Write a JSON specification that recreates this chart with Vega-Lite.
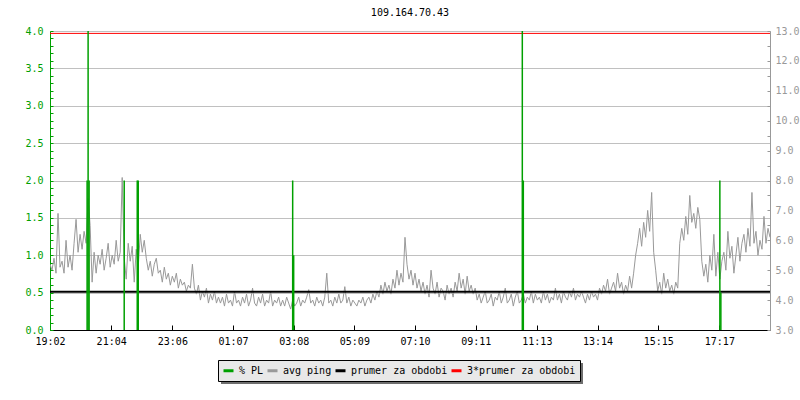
{
  "$schema": "https://vega.github.io/schema/vega-lite/v6.json",
  "width": 720,
  "height": 299,
  "autosize": {"type": "none"},
  "padding": {"left": 50, "top": 31, "right": 30, "bottom": 70},
  "background": "white",
  "title": {"text": "109.164.70.43", "font": "DejaVu Sans Mono", "fontSize": 10, "fontWeight": "normal", "color": "black", "baseline": "alphabetic", "frame": "group", "anchor": "middle", "offset": 14, "dy": 14},
  "config": {
    "view": {"stroke": null},
    "axis": {"labelFont": "DejaVu Sans Mono", "labelFontSize": 10, "title": null, "domainWidth": 1, "tickWidth": 1, "labelOverlap": false, "labelFlush": false}
  },
  "datasets": {
    "ping": [
      {"t":0,"v":5.2},{"t":4,"v":5.0},{"t":8,"v":5.4},{"t":12,"v":4.9},{"t":16,"v":6.9},{"t":20,"v":5.1},{"t":24,"v":5.3},{"t":28,"v":4.9},{"t":32,"v":6.0},{"t":36,"v":5.1},
      {"t":40,"v":5.5},{"t":44,"v":5.0},{"t":48,"v":5.9},{"t":52,"v":6.7},{"t":56,"v":5.6},{"t":60,"v":6.2},{"t":64,"v":5.7},{"t":68,"v":6.3},{"t":72,"v":5.9},{"t":76,"v":7.4},
      {"t":80,"v":6.5},{"t":84,"v":4.6},{"t":88,"v":5.6},{"t":92,"v":4.9},{"t":96,"v":5.5},{"t":100,"v":5.2},{"t":104,"v":5.7},{"t":108,"v":5.0},{"t":112,"v":5.4},{"t":116,"v":5.9},
      {"t":120,"v":5.1},{"t":124,"v":5.5},{"t":128,"v":5.2},{"t":132,"v":6.0},{"t":136,"v":5.3},{"t":140,"v":5.6},{"t":144,"v":8.1},{"t":148,"v":5.4},{"t":152,"v":4.7},{"t":156,"v":5.9},
      {"t":160,"v":5.3},{"t":164,"v":5.8},{"t":168,"v":4.6},{"t":172,"v":5.7},{"t":176,"v":5.1},{"t":180,"v":6.2},{"t":184,"v":5.6},{"t":188,"v":6.0},{"t":192,"v":5.4},{"t":196,"v":5.0},
      {"t":200,"v":5.3},{"t":204,"v":4.8},{"t":208,"v":5.2},{"t":212,"v":5.4},{"t":216,"v":4.9},{"t":220,"v":5.0},{"t":224,"v":4.6},{"t":228,"v":5.1},{"t":232,"v":4.7},{"t":236,"v":4.9},
      {"t":240,"v":4.5},{"t":244,"v":4.8},{"t":248,"v":4.6},{"t":252,"v":4.9},{"t":256,"v":4.4},{"t":260,"v":4.7},{"t":264,"v":4.5},{"t":268,"v":4.6},{"t":272,"v":4.3},{"t":276,"v":4.5},
      {"t":280,"v":4.4},{"t":284,"v":5.2},{"t":288,"v":4.4},{"t":292,"v":4.2},{"t":296,"v":4.5},{"t":300,"v":4.0},{"t":304,"v":4.3},{"t":308,"v":4.1},{"t":312,"v":4.4},{"t":316,"v":3.9},
      {"t":320,"v":4.2},{"t":324,"v":4.0},{"t":328,"v":4.3},{"t":332,"v":3.9},{"t":336,"v":4.1},{"t":340,"v":3.9},{"t":344,"v":4.1},{"t":348,"v":3.8},{"t":352,"v":4.2},{"t":356,"v":3.9},
      {"t":360,"v":4.0},{"t":364,"v":3.8},{"t":368,"v":4.3},{"t":372,"v":3.9},{"t":376,"v":4.0},{"t":380,"v":3.8},{"t":384,"v":4.1},{"t":388,"v":3.9},{"t":392,"v":4.2},{"t":396,"v":3.8},
      {"t":400,"v":4.0},{"t":404,"v":4.4},{"t":408,"v":3.9},{"t":412,"v":3.8},{"t":416,"v":4.1},{"t":420,"v":3.9},{"t":424,"v":4.2},{"t":428,"v":3.8},{"t":432,"v":4.0},{"t":436,"v":3.9},
      {"t":440,"v":4.3},{"t":444,"v":3.8},{"t":448,"v":4.0},{"t":452,"v":3.9},{"t":456,"v":4.1},{"t":460,"v":3.8},{"t":464,"v":4.0},{"t":468,"v":3.8},{"t":472,"v":4.1},{"t":476,"v":3.9},
      {"t":480,"v":3.7},{"t":484,"v":4.0},{"t":488,"v":3.8},{"t":492,"v":3.9},{"t":496,"v":4.1},{"t":500,"v":3.8},{"t":504,"v":4.0},{"t":508,"v":3.9},{"t":512,"v":4.1},{"t":516,"v":4.35},
      {"t":520,"v":3.9},{"t":524,"v":4.0},{"t":528,"v":3.8},{"t":532,"v":4.1},{"t":536,"v":3.9},{"t":540,"v":4.0},{"t":544,"v":3.8},{"t":548,"v":4.1},{"t":552,"v":4.9},{"t":556,"v":3.9},
      {"t":560,"v":4.0},{"t":564,"v":3.8},{"t":568,"v":4.1},{"t":572,"v":3.9},{"t":576,"v":4.2},{"t":580,"v":3.9},{"t":584,"v":4.0},{"t":588,"v":4.45},{"t":592,"v":3.9},{"t":596,"v":4.1},
      {"t":600,"v":3.8},{"t":604,"v":4.0},{"t":608,"v":3.9},{"t":612,"v":3.8},{"t":616,"v":4.0},{"t":620,"v":3.9},{"t":624,"v":4.1},{"t":628,"v":3.8},{"t":632,"v":4.0},{"t":636,"v":4.1},
      {"t":640,"v":3.9},{"t":644,"v":4.2},{"t":648,"v":4.0},{"t":652,"v":4.3},{"t":656,"v":4.1},{"t":660,"v":4.5},{"t":664,"v":4.2},{"t":668,"v":4.6},{"t":672,"v":4.3},{"t":676,"v":4.5},
      {"t":680,"v":4.2},{"t":684,"v":4.7},{"t":688,"v":4.4},{"t":692,"v":5.0},{"t":696,"v":4.5},{"t":700,"v":4.9},{"t":704,"v":4.6},{"t":708,"v":6.1},{"t":712,"v":5.2},{"t":716,"v":4.7},
      {"t":720,"v":5.0},{"t":724,"v":4.5},{"t":728,"v":4.9},{"t":732,"v":4.4},{"t":736,"v":4.7},{"t":740,"v":4.3},{"t":744,"v":4.6},{"t":748,"v":4.2},{"t":752,"v":4.5},{"t":756,"v":4.1},
      {"t":760,"v":5.0},{"t":764,"v":4.4},{"t":768,"v":4.2},{"t":772,"v":4.6},{"t":776,"v":4.1},{"t":780,"v":4.4},{"t":784,"v":4.3},{"t":788,"v":4.0},{"t":792,"v":4.5},{"t":796,"v":4.2},
      {"t":800,"v":4.4},{"t":804,"v":4.1},{"t":808,"v":4.6},{"t":812,"v":4.3},{"t":816,"v":4.9},{"t":820,"v":4.4},{"t":824,"v":4.7},{"t":828,"v":4.2},{"t":832,"v":4.8},{"t":836,"v":4.3},
      {"t":840,"v":4.5},{"t":844,"v":4.2},{"t":848,"v":4.4},{"t":852,"v":4.0},{"t":856,"v":4.2},{"t":860,"v":3.9},{"t":864,"v":4.1},{"t":868,"v":4.3},{"t":872,"v":3.9},{"t":876,"v":4.0},
      {"t":880,"v":4.2},{"t":884,"v":3.8},{"t":888,"v":4.1},{"t":892,"v":4.0},{"t":896,"v":4.3},{"t":900,"v":3.9},{"t":904,"v":4.1},{"t":908,"v":4.4},{"t":912,"v":3.9},{"t":916,"v":4.0},
      {"t":920,"v":4.2},{"t":924,"v":3.8},{"t":928,"v":4.1},{"t":932,"v":4.3},{"t":936,"v":3.9},{"t":940,"v":4.0},{"t":944,"v":4.2},{"t":948,"v":3.9},{"t":952,"v":4.1},{"t":956,"v":4.0},
      {"t":960,"v":4.3},{"t":964,"v":3.9},{"t":968,"v":4.2},{"t":972,"v":4.0},{"t":976,"v":4.1},{"t":980,"v":3.9},{"t":984,"v":4.3},{"t":988,"v":4.0},{"t":992,"v":4.2},{"t":996,"v":3.9},
      {"t":1000,"v":4.1},{"t":1004,"v":4.0},{"t":1008,"v":4.4},{"t":1012,"v":4.0},{"t":1016,"v":4.2},{"t":1020,"v":3.9},{"t":1024,"v":4.3},{"t":1028,"v":4.1},{"t":1032,"v":4.0},{"t":1036,"v":4.3},
      {"t":1040,"v":4.1},{"t":1044,"v":4.4},{"t":1048,"v":4.0},{"t":1052,"v":4.2},{"t":1056,"v":4.1},{"t":1060,"v":4.3},{"t":1064,"v":4.1},{"t":1068,"v":3.9},{"t":1072,"v":4.2},{"t":1076,"v":4.0},
      {"t":1080,"v":4.3},{"t":1084,"v":4.1},{"t":1088,"v":4.2},{"t":1092,"v":4.0},{"t":1096,"v":4.4},{"t":1100,"v":4.2},{"t":1104,"v":4.5},{"t":1108,"v":4.3},{"t":1112,"v":4.7},{"t":1116,"v":4.2},
      {"t":1120,"v":4.4},{"t":1124,"v":4.6},{"t":1128,"v":4.3},{"t":1132,"v":4.9},{"t":1136,"v":4.4},{"t":1140,"v":4.6},{"t":1144,"v":4.2},{"t":1148,"v":4.5},{"t":1152,"v":4.3},{"t":1156,"v":4.8},
      {"t":1160,"v":4.4},{"t":1164,"v":4.9},{"t":1168,"v":5.5},{"t":1172,"v":5.9},{"t":1176,"v":6.4},{"t":1180,"v":5.8},{"t":1184,"v":6.6},{"t":1188,"v":6.1},{"t":1192,"v":7.0},{"t":1196,"v":6.3},
      {"t":1200,"v":7.6},{"t":1204,"v":5.6},{"t":1208,"v":5.0},{"t":1212,"v":4.3},{"t":1216,"v":4.6},{"t":1220,"v":4.2},{"t":1224,"v":4.9},{"t":1228,"v":4.4},{"t":1232,"v":4.7},{"t":1236,"v":4.3},
      {"t":1240,"v":4.5},{"t":1244,"v":4.2},{"t":1248,"v":4.6},{"t":1252,"v":4.4},{"t":1256,"v":5.9},{"t":1260,"v":6.4},{"t":1264,"v":6.0},{"t":1268,"v":6.8},{"t":1272,"v":6.2},{"t":1276,"v":7.5},
      {"t":1280,"v":6.6},{"t":1284,"v":6.9},{"t":1288,"v":6.4},{"t":1292,"v":7.1},{"t":1296,"v":6.7},{"t":1300,"v":5.3},{"t":1304,"v":4.8},{"t":1308,"v":5.2},{"t":1312,"v":4.6},{"t":1316,"v":5.5},
      {"t":1320,"v":5.0},{"t":1324,"v":6.2},{"t":1328,"v":4.8},{"t":1332,"v":5.6},{"t":1336,"v":4.7},{"t":1340,"v":5.3},{"t":1344,"v":5.6},{"t":1348,"v":5.0},{"t":1352,"v":6.3},{"t":1356,"v":5.4},
      {"t":1360,"v":5.8},{"t":1364,"v":4.9},{"t":1368,"v":5.5},{"t":1372,"v":6.1},{"t":1376,"v":5.3},{"t":1380,"v":5.9},{"t":1384,"v":6.2},{"t":1388,"v":5.6},{"t":1392,"v":6.4},{"t":1396,"v":5.8},
      {"t":1400,"v":7.6},{"t":1404,"v":5.9},{"t":1408,"v":6.3},{"t":1412,"v":5.5},{"t":1416,"v":6.0},{"t":1420,"v":5.7},{"t":1424,"v":6.8},{"t":1428,"v":5.9},{"t":1432,"v":6.4},{"t":1436,"v":6.1}
    ],
    "pl": [
      {"t":74,"pl":2},{"t":76,"pl":4},{"t":78,"pl":2},{"t":148,"pl":2},{"t":174,"pl":2},{"t":176,"pl":2},
      {"t":484,"pl":2},{"t":486,"pl":1},{"t":942,"pl":4},{"t":944,"pl":2},{"t":1336,"pl":2},{"t":1338,"pl":0.5}
    ],
    "avg": [{"avg":4.28,"avg3":12.92}]
  },
  "layer": [
    {
      "layer": [
        {
          "data": {"name": "ping"},
          "mark": {"type": "line", "strokeWidth": 1, "clip": true},
          "encoding": {
            "x": {"field": "t", "type": "quantitative", "scale": {"domain": [0, 1436], "nice": false, "zero": false},
              "axis": {"values": [0,122,244,365,486,607,728,849,971,1092,1213,1335], "labelExpr": "utcFormat(datum.value*60000+68520000,'%H:%M')", "grid": false, "domainColor": "black", "tickColor": "black", "tickSize": -5, "labelPadding": 11, "labelColor": "black", "labelOverlap": false}},
            "y": {"field": "v", "type": "quantitative", "scale": {"domain": [3, 13], "nice": false, "zero": false},
              "axis": {"orient": "right", "values": [3,3.5,4,4.5,5,5.5,6,6.5,7,7.5,8,8.5,9,9.5,10,10.5,11,11.5,12,12.5,13], "labelExpr": "datum.value == floor(datum.value) ? format(datum.value,'.1f') : ''", "grid": false, "domainColor": "#999999", "tickColor": "#999999", "tickSize": -3, "labelPadding": 8, "labelColor": "#999999", "labelOverlap": false}},
            "color": {"datum": "avg ping", "type": "nominal",
              "scale": {"domain": ["% PL", "avg ping", "prumer za obdobi", "3*prumer za obdobi"], "range": ["#00a000", "#999999", "#000000", "#ff0000"]},
              "legend": {"orient": "none", "legendX": 168, "legendY": 329, "direction": "horizontal", "title": null, "symbolType": "stroke", "symbolStrokeWidth": 3, "symbolSize": 100, "labelFont": "DejaVu Sans Mono", "labelFontSize": 10, "labelColor": "black", "fillColor": "#e8e8e8", "strokeColor": "black", "padding": 4, "columnPadding": -3, "labelOffset": 4, "labelLimit": 300, "zindex": 2}}
          }
        },
        {
          "data": {"name": "avg"},
          "mark": {"type": "rule", "strokeWidth": 2},
          "encoding": {
            "y": {"field": "avg", "type": "quantitative",
              "axis": {"orient": "right", "values": [3,3.5,4,4.5,5,5.5,6,6.5,7,7.5,8,8.5,9,9.5,10,10.5,11,11.5,12,12.5,13], "labelExpr": "datum.value == floor(datum.value) ? format(datum.value,'.1f') : ''", "grid": false, "domainColor": "#999999", "tickColor": "#999999", "tickSize": -3, "labelPadding": 8, "labelColor": "#999999", "labelOverlap": false}},
            "color": {"datum": "prumer za obdobi", "type": "nominal"}
          }
        },
        {
          "data": {"name": "avg"},
          "mark": {"type": "rule", "strokeWidth": 1},
          "encoding": {
            "y": {"field": "avg3", "type": "quantitative",
              "axis": {"orient": "right", "values": [3,3.5,4,4.5,5,5.5,6,6.5,7,7.5,8,8.5,9,9.5,10,10.5,11,11.5,12,12.5,13], "labelExpr": "datum.value == floor(datum.value) ? format(datum.value,'.1f') : ''", "grid": false, "domainColor": "#999999", "tickColor": "#999999", "tickSize": -3, "labelPadding": 8, "labelColor": "#999999", "labelOverlap": false}},
            "color": {"datum": "3*prumer za obdobi", "type": "nominal"}
          }
        }
      ]
    },
    {
      "data": {"name": "pl"},
      "mark": {"type": "rule", "strokeWidth": 1.5},
      "encoding": {
        "x": {"field": "t", "type": "quantitative", "scale": {"domain": [0, 1436], "nice": false, "zero": false}},
        "y": {"field": "pl", "type": "quantitative", "scale": {"domain": [0, 4], "nice": false},
          "axis": {"orient": "left", "values": [0,0.1,0.2,0.3,0.4,0.5,0.6,0.7,0.8,0.9,1,1.1,1.2,1.3,1.4,1.5,1.6,1.7,1.8,1.9,2,2.1,2.2,2.3,2.4,2.5,2.6,2.7,2.8,2.9,3,3.1,3.2,3.3,3.4,3.5,3.6,3.7,3.8,3.9,4],
            "labelExpr": "abs(datum.value*2-round(datum.value*2))<0.001 ? format(datum.value,'.1f') : ''",
            "grid": true, "gridColor": "#c0c0c0",
            "gridOpacity": {"condition": {"test": "abs(datum.value*2-round(datum.value*2))<0.001", "value": 1}, "value": 0},
            "domainColor": "#00a000", "tickColor": "#00a000", "tickSize": -3, "labelPadding": 10, "labelColor": "#00a000", "labelOverlap": false}},
        "y2": {"datum": 0},
        "color": {"datum": "% PL", "type": "nominal"},
        "opacity": {"datum": "%_PL", "type": "ordinal",
          "scale": {"domain": ["%_PL", "avg_ping", "prumer_za_obdobi", "3*prumer_za_obdobi"], "range": [1, 1, 1, 1]},
          "legend": {"orient": "none", "legendX": 171, "legendY": 332, "direction": "horizontal", "title": null, "symbolType": "stroke", "symbolStrokeWidth": 3, "symbolSize": 100, "symbolOpacity": 0, "labelFont": "DejaVu Sans Mono", "labelFontSize": 10, "labelOpacity": 0, "fillColor": "#6e6e6e", "strokeColor": null, "padding": 4, "columnPadding": -3, "labelOffset": 4, "labelLimit": 300, "zindex": 1}}
      }
    }
  ],
  "resolve": {"scale": {"y": "independent"}, "axis": {"y": "independent"}}
}
